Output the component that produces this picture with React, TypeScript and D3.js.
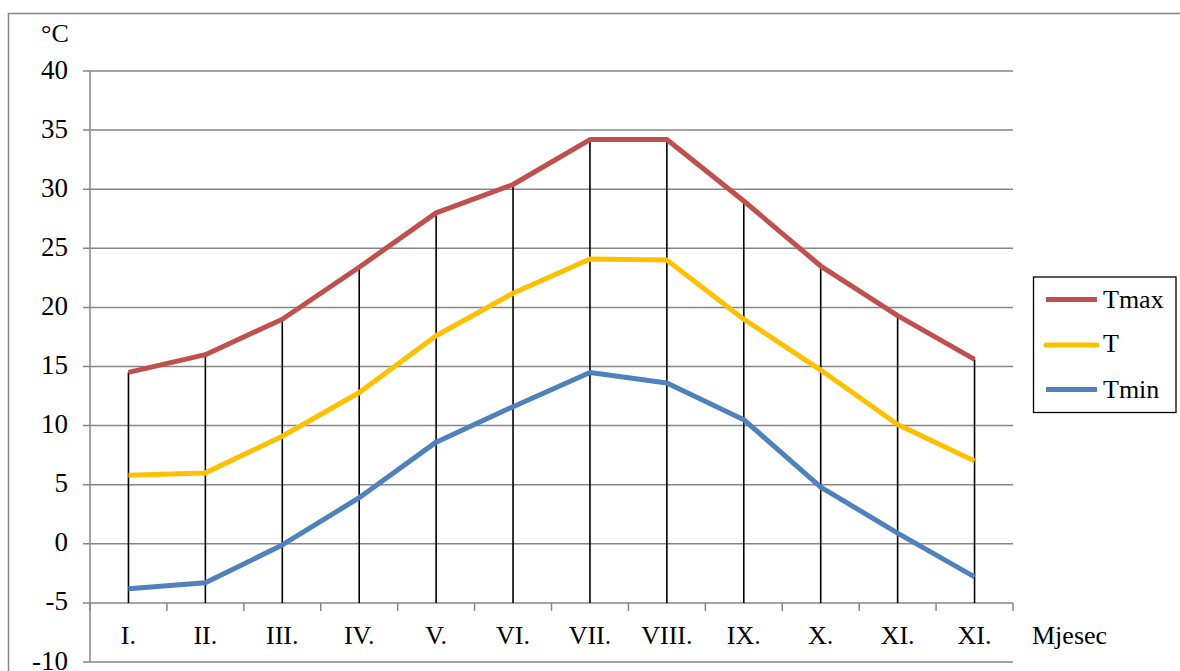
import React from "react";
import * as d3 from "d3";

const months = ["I.", "II.", "III.", "IV.", "V.", "VI.", "VII.", "VIII.", "IX.", "X.", "XI.", "XI."];
const tmax = [14.5, 16, 19, 23.4, 28, 30.4, 34.2, 34.2, 29, 23.5, 19.3, 15.6];
const tavg = [5.8, 6, 9.1, 12.8, 17.6, 21.2, 24.1, 24, 19, 14.7, 10.1, 7];
const tmin = [-3.8, -3.3, -0.1, 3.9, 8.6, 11.6, 14.5, 13.6, 10.5, 4.8, 0.9, -2.8];
const yTicks = [40, 35, 30, 25, 20, 15, 10, 5, 0, -5, -10];
const seriesNames = ["Tmax", "T", "Tmin"];
const seriesColors = ["#C0504D", "#FFC000", "#4F81BD"];

export default function App() {
  const W = 1180, H = 671;
  const left = 90, right = 1013, top = 71, bottom = 662;
  const x = d3.scaleBand<string>().domain(months.map((m, i) => String(i))).range([left, right]);
  const cx = (i: number) => (x(String(i)) as number) + x.bandwidth() / 2;
  const y = d3.scaleLinear().domain([-10, 40]).range([bottom, top]);
  const series = [tmax, tavg, tmin];
  const line = d3.line<number>().x((_, i) => cx(i)).y((d) => y(d));
  const axisY = y(-5);
  const ts = { fontFamily: "Liberation Serif" } as React.CSSProperties;
  const fs = 26;
  const legendY = [299.5, 345, 389.5];
  const legendBase = [308, 352, 398];

  return (
    <svg width={W} height={H} style={{ position: "absolute", left: 0, top: 0 }}>
      <rect x={0} y={0} width={W} height={H} fill="#fff" />
      <rect x={8.5} y={13.5} width={1200} height={700} fill="none" stroke="#868686" strokeWidth={1.5} />
      {yTicks.map((t) => (
        <g key={t}>
          <line x1={left - 7} x2={right} y1={y(t)} y2={y(t)} stroke="#868686" strokeWidth={1.5} />
          <text x={68} y={y(t) + 7.5} textAnchor="end" style={ts} fontSize={fs + 1} fill="#000">{t}</text>
        </g>
      ))}
      <line x1={left} x2={left} y1={top} y2={bottom} stroke="#868686" strokeWidth={1.5} />
      {d3.range(months.length + 1).map((i) => {
        const xx = left + i * x.bandwidth();
        return <line key={i} x1={xx} x2={xx} y1={axisY} y2={axisY + 8} stroke="#868686" strokeWidth={1.5} />;
      })}
      {months.map((m, i) => (
        <text key={i} x={cx(i)} y={643.5} textAnchor="middle" style={ts} fontSize={fs} fill="#000">{m}</text>
      ))}
      {tmax.map((v, i) => (
        <line key={i} x1={cx(i)} x2={cx(i)} y1={y(v)} y2={axisY} stroke="#000" strokeWidth={1.6} />
      ))}
      {series.map((s, k) => (
        <path key={k} d={line(s) || ""} fill="none" stroke={seriesColors[k]} strokeWidth={5} strokeLinejoin="round" />
      ))}
      <text x={41} y={42} style={ts} fontSize={fs} fill="#000">°C</text>
      <text x={1032} y={643.5} style={ts} fontSize={fs} fill="#000">Mjesec</text>
      <rect x={1033.5} y={277} width={142.5} height={135.5} fill="#fff" stroke="#000" strokeWidth={1.3} />
      {seriesNames.map((n, k) => (
        <g key={n}>
          <line x1={1046} x2={1097} y1={legendY[k]} y2={legendY[k]} stroke={seriesColors[k]} strokeWidth={5} strokeLinecap={k === 1 ? "round" : "butt"} />
          <text x={1103} y={legendBase[k]} style={ts} fontSize={fs} fill="#000">{n}</text>
        </g>
      ))}
    </svg>
  );
}
